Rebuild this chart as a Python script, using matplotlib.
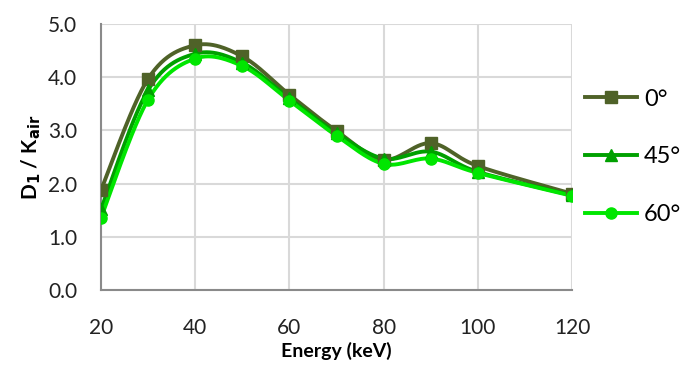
import numpy as np
import matplotlib.pyplot as plt
from matplotlib.lines import Line2D

plt.rcParams['font.family'] = ['Lato', 'DejaVu Sans']

energy = [20, 30, 40, 50, 60, 70, 80, 90, 100, 120]
d_0 = [1.88, 3.97, 4.60, 4.39, 3.67, 2.99, 2.45, 2.76, 2.33, 1.81]
d_45 = [1.52, 3.76, 4.44, 4.27, 3.60, 2.95, 2.47, 2.60, 2.22, 1.78]
d_60 = [1.36, 3.58, 4.35, 4.21, 3.56, 2.90, 2.37, 2.47, 2.20, 1.77]
labels = ['0°', '45°', '60°']
colors = ['#4F6228', '#00A000', '#00E600']
markers = ['s', '^', 'o']


def smooth(x, y, n=30):
    # Excel-like smoothed line (Catmull-Rom style Bezier)
    x = np.asarray(x, float)
    y = np.asarray(y, float)
    px = np.concatenate([[x[0]], x, [x[-1]]])
    py = np.concatenate([[y[0]], y, [y[-1]]])
    xs, ys = [], []
    t = np.linspace(0, 1, n)
    for i in range(1, len(x)):
        p0 = np.array([px[i], py[i]])
        p3 = np.array([px[i + 1], py[i + 1]])
        c1 = p0 + (np.array([px[i + 1], py[i + 1]]) - np.array([px[i - 1], py[i - 1]])) / 6
        c2 = p3 - (np.array([px[i + 2], py[i + 2]]) - np.array([px[i], py[i]])) / 6
        b = ((1 - t) ** 3)[:, None] * p0 + (3 * (1 - t) ** 2 * t)[:, None] * c1 \
            + (3 * (1 - t) * t ** 2)[:, None] * c2 + (t ** 3)[:, None] * p3
        xs.extend(b[:, 0])
        ys.extend(b[:, 1])
    return xs, ys


fig = plt.figure(figsize=(6.89, 3.65), dpi=100)
ax = fig.add_axes([0.1466, 0.2055, 0.6836, 0.7288])

for y, c, m in zip([d_0, d_45, d_60], colors, markers):
    sx, sy = smooth(energy, y)
    ax.plot(sx, sy, color=c, lw=2.8, zorder=3)
    ax.plot(energy, y, ls='none', marker=m, color=c, ms=8, zorder=4)

ax.set_xlim(20, 120)
ax.set_ylim(0, 5)
ax.set_xticks([20, 40, 60, 80, 100, 120])
ax.set_yticks([0, 1, 2, 3, 4, 5])
ax.set_yticklabels(['0.0', '1.0', '2.0', '3.0', '4.0', '5.0'])
ax.tick_params(length=0, labelsize=15, colors='#222222')
ax.tick_params(axis='x', pad=20)
ax.tick_params(axis='y', pad=17)
ax.grid(color='#d9d9d9', lw=1.5)
ax.set_axisbelow(True)
for s in ['top', 'right']:
    ax.spines[s].set_visible(False)
for s in ['left', 'bottom']:
    ax.spines[s].set_color('#8a8a8a')
    ax.spines[s].set_linewidth(1.5)

ax.set_xlabel('Energy (keV)', fontsize=14, fontweight='bold', labelpad=3)
ax.set_ylabel('D$_\\mathbf{1}$ / K$_\\mathbf{air}$', fontsize=15, fontweight='bold', labelpad=4)

handles = [Line2D([], [], color=c, marker=m, lw=2.8, ms=8) for c, m in zip(colors, markers)]
fig.legend(handles, labels, loc='upper left', bbox_to_anchor=(0.849, 0.757),
           frameon=False, fontsize=17, handlelength=2.2, handletextpad=0.3,
           labelspacing=1.55, borderpad=0, borderaxespad=0)

fig.savefig('out.png', dpi=100)
